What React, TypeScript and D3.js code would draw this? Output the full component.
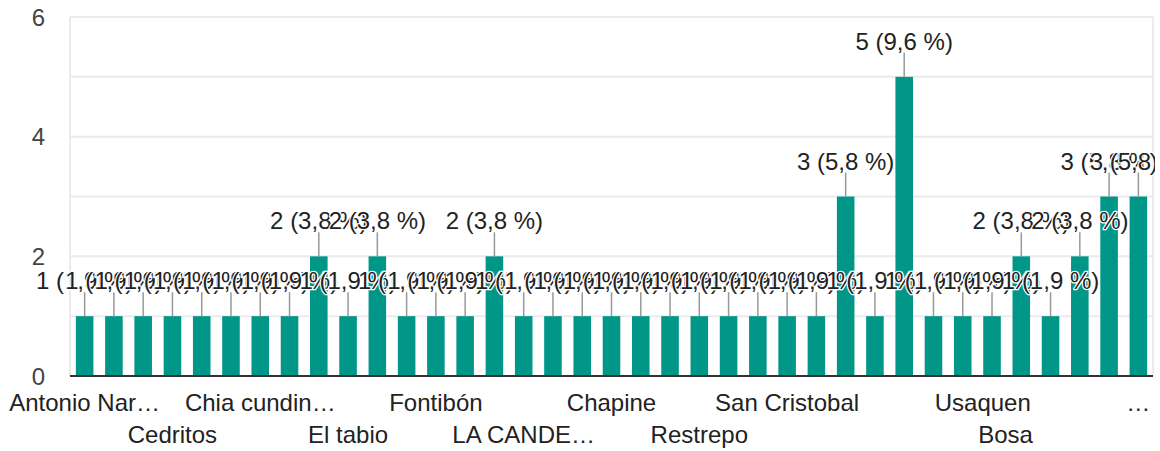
import * as d3 from 'd3';

// answers per bar, in the order of the form
const values = [
  1, 1, 1, 1, 1, 1, 1, 1, 2, 1, 2, 1, 1, 1, 2, 1, 1, 1, 1, 1, 1, 1, 1, 1, 1, 1, 3, 1, 5, 1, 1, 1, 2, 1, 2, 3, 3,
];

// labels shown under every third bar (alternating rows)
const tickLabels = [
  'Antonio Nar…',
  'Cedritos',
  'Chia cundin…',
  'El tabio',
  'Fontibón',
  'LA CANDE…',
  'Chapine',
  'Restrepo',
  'San Cristobal',
  '',
  'Usaquen',
  'Bosa',
  '…',
];

const yTicks = [0, 2, 4, 6];

const WIDTH = 1160;
const HEIGHT = 451;
const FONT = '"Liberation Sans", Arial, sans-serif';
const BAR = '#009688';

export default function App() {
  const margin = { top: 17, right: 7, bottom: 75, left: 70 };
  const plotBottom = HEIGHT - margin.bottom;
  const total = d3.sum(values);

  const x = d3
    .scaleBand<number>()
    .domain(d3.range(values.length))
    .range([margin.left, WIDTH - margin.right])
    .paddingInner(0.4)
    .paddingOuter(0.2);

  const y = d3.scaleLinear().domain([0, 6]).range([plotBottom, margin.top]);

  const center = (i: number) => (x(i) ?? 0) + x.bandwidth() / 2;
  const pct = (v: number) => d3.format('.1f')((v / total) * 100).replace('.', ',');

  // google nudged these two labels off their bars
  const nudge: Record<number, number> = { 10: 20, 11: -45 };

  return (
    <svg
      width={WIDTH}
      height={HEIGHT}
      style={{ position: 'absolute', left: 0, top: 0, background: '#fff' }}
      fontFamily={FONT}
    >
      <defs>
        <clipPath id="annot-clip">
          <rect x={0} y={0} width={WIDTH - margin.right + 2} height={HEIGHT} />
        </clipPath>
      </defs>

      {d3.range(1, 7).map((t) => (
        <line key={t} x1={margin.left} x2={WIDTH - margin.right} y1={y(t)} y2={y(t)} stroke="#ebebeb" strokeWidth={2} />
      ))}
      <line x1={margin.left} x2={margin.left} y1={margin.top} y2={plotBottom} stroke="#ebebeb" strokeWidth={2} />
      <line
        x1={WIDTH - margin.right}
        x2={WIDTH - margin.right}
        y1={margin.top}
        y2={plotBottom}
        stroke="#ebebeb"
        strokeWidth={2}
      />

      {yTicks.map((t) => (
        <text key={t} x={45} y={y(t)} dy="0.36em" textAnchor="end" fontSize={24} fill="#444">
          {t}
        </text>
      ))}

      {values.map((v, i) => (
        <rect key={i} x={x(i)} y={y(v)} width={x.bandwidth()} height={plotBottom - y(v)} fill={BAR} />
      ))}

      <line x1={margin.left} x2={WIDTH - margin.right} y1={plotBottom} y2={plotBottom} stroke="#333" strokeWidth={2} />

      <g clipPath="url(#annot-clip)">
        {values.map((v, i) => (
          <g key={i}>
            <line x1={center(i)} x2={center(i)} y1={y(v) - 24} y2={y(v)} stroke="#999" strokeWidth={1.5} />
            <text
              x={center(i)}
              y={y(v) - 27}
              textAnchor="middle"
              fontSize={24}
              fill="#222"
              stroke="#fff"
              strokeWidth={2.5}
              strokeLinejoin="round"
              paintOrder="stroke"
            >
              {`${v} (${pct(v)} %)`}
            </text>
          </g>
        ))}
      </g>

      {tickLabels.map((label, k) => (
        <text
          key={k}
          x={center(k * 3) + (nudge[k] ?? 0)}
          y={k % 2 === 0 ? 411 : 443}
          textAnchor="middle"
          fontSize={24}
          fill="#222"
        >
          {label}
        </text>
      ))}
    </svg>
  );
}
